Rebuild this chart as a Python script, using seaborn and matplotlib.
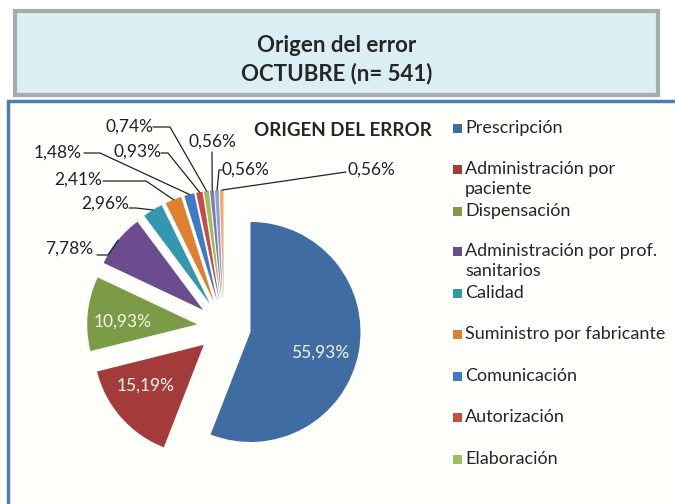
import numpy as np
import matplotlib
matplotlib.use("Agg")
import matplotlib.pyplot as plt
import seaborn as sns
from matplotlib.patches import Rectangle

sns.set_theme(style="white")
plt.rcParams['font.family'] = ['Lato', 'DejaVu Sans']

categorias = ["Prescripción", "Administración por\npaciente", "Dispensación",
              "Administración por prof.\nsanitarios", "Calidad",
              "Suministro por fabricante", "Comunicación", "Autorización",
              "Elaboración", "Otros 1", "Otros 2", "Otros 3"]
porcentajes = [55.93, 15.19, 10.93, 7.78, 2.96, 2.41, 1.48, 0.93, 0.74, 0.56, 0.56, 0.56]
etiquetas = ["55,93%", "15,19%", "10,93%", "7,78%", "2,96%", "2,41%",
             "1,48%", "0,93%", "0,74%", "0,56%", "0,56%", "0,56%"]
colores = ["#3F6CA3", "#A33B3A", "#7C9B46", "#6A4C8F", "#3596B0", "#E0802F",
           "#3F7AC6", "#C84B4B", "#9BC25A", "#8F74B5", "#7AA8D8", "#F5A96A"]
n_legend = 9

W, H = 675, 504
fig = plt.figure(figsize=(W / 100, H / 100), dpi=100)

# background layer in pixel coords
bg = fig.add_axes([0, 0, 1, 1])
bg.set_xlim(0, W)
bg.set_ylim(H, 0)
bg.axis("off")
bg.add_patch(Rectangle((15, 11), 643, 84, facecolor="#DAEEF3", edgecolor="#A3ADAD", lw=3))
bg.text(337, 45, "Origen del error", ha="center", va="center", fontsize=16, fontweight="bold")
bg.text(337, 74, "OCTUBRE (n= 541)", ha="center", va="center", fontsize=16, fontweight="bold")
bg.add_patch(Rectangle((8, 101), 680, 420, facecolor="#FFFFFC", edgecolor="#4F7DB5", lw=2.5))
bg.text(343, 131, "ORIGEN DEL ERROR", ha="center", va="center", fontsize=13.5, fontweight="bold")

# legend (Excel shows only the first nine entries)
leg_y = [129, 170, 212, 252, 294, 335, 377, 418, 460]
for i in range(n_legend):
    bg.add_patch(Rectangle((453, leg_y[i] - 5), 9, 9, facecolor=colores[i], edgecolor="none"))
    bg.text(465, leg_y[i] - 9, categorias[i], ha="left", va="top", fontsize=13,
            linespacing=1.3)

# pie layer: 1 data unit = 110 px, centre at pixel (224, 327)
r_px = 110
cx, cy = 224, 327
ax = fig.add_axes([0, 0, 1, 1])
ax.patch.set_alpha(0)

expl = 0.245
ax.pie(porcentajes, colors=colores, startangle=90, counterclock=False,
       explode=[expl] * len(porcentajes), radius=1,
       wedgeprops=dict(edgecolor="none"))
ax.set_xlim(-cx / r_px, (W - cx) / r_px)
ax.set_ylim(-(H - cy) / r_px, cy / r_px)
ax.axis("off")

# angles of each slice (clockwise from top)
cum = np.cumsum([0] + porcentajes[:-1])
mid = np.radians((cum + np.array(porcentajes) / 2) * 3.6)

def edge_point(i, rr):
    off = expl + rr
    return off * np.sin(mid[i]), off * np.cos(mid[i])

def px(x, y):
    return (x - cx) / r_px, (cy - y) / r_px

# labels inside the big slices
dentro = {0: (320, 353), 1: (146, 386), 2: (123, 322)}
for i, pos in dentro.items():
    ax.text(*px(*pos), etiquetas[i], ha="center", va="center", color="#F4F6EE", fontsize=12.5)

# outside labels: text position (pixel), elbow points (pixel)
fuera = {
    3: ((69, 249), (97, 255), (108, 255)),
    4: ((105, 204), (129, 208), (136, 208)),
    5: ((78, 180), (103, 181), (146, 181)),
    6: ((58, 153), (84, 153), (100, 153)),
    7: ((138, 152), (161, 153), (168, 153)),
    8: ((129, 127), (153, 127), (170, 127)),
    9: ((212, 142), (212, 152), (212, 152)),
    10: ((245, 170), (222, 170), (219, 170)),
    11: ((371, 170), (346, 172), (346, 172)),
}
for i, (tpos, p0, p1) in fuera.items():
    ax.text(*px(*tpos), etiquetas[i], ha="center", va="center", fontsize=12.5, color="#222222")
    ex, ey = edge_point(i, 1.0)
    xs = [px(*p0)[0], px(*p1)[0], ex]
    ys = [px(*p0)[1], px(*p1)[1], ey]
    ax.plot(xs, ys, color="#222222", lw=0.9)

fig.savefig("out.png", dpi=100)
